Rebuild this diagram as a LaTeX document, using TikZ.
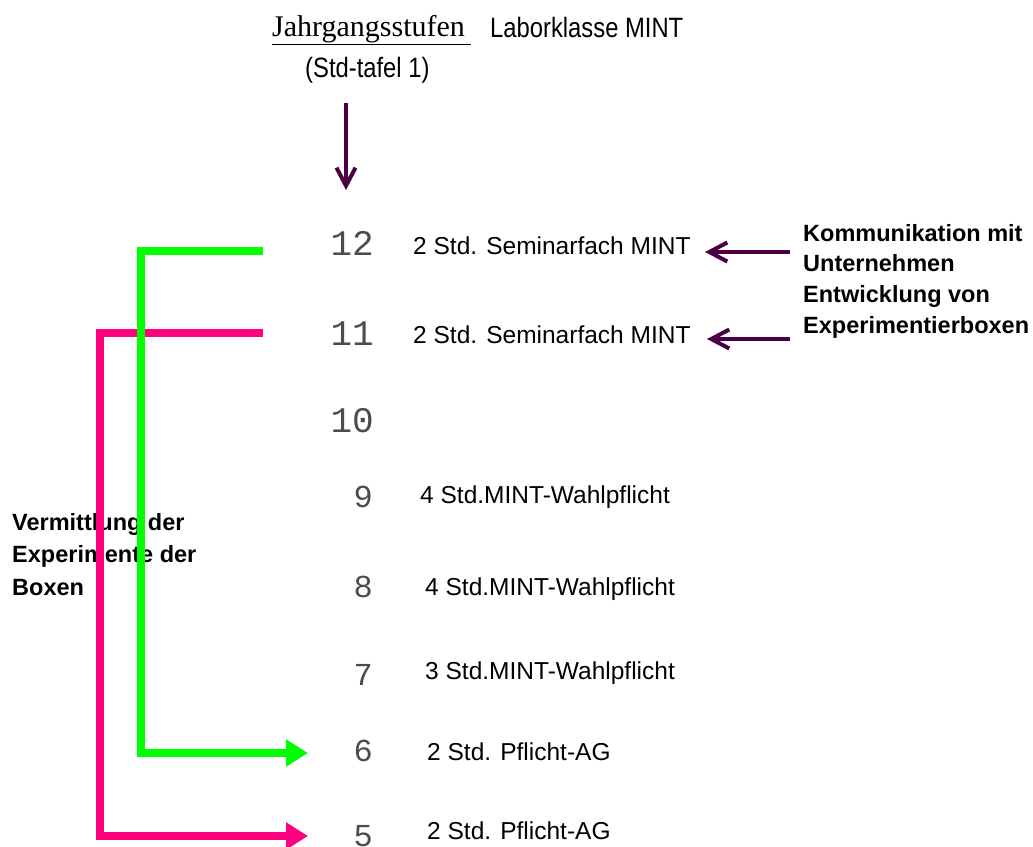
\documentclass[tikz,border=0pt]{standalone}
\usepackage{fontspec}
\setmainfont{Liberation Sans}
\newfontfamily\regfont{Liberation Sans}
\newfontfamily\headfont{Liberation Sans}[FakeStretch=0.85]
\newfontfamily\serfont{Liberation Serif}
\newfontfamily\numfont{Liberation Mono}
\usetikzlibrary{arrows.meta}
\definecolor{plum}{RGB}{75,0,70}
\definecolor{lgreen}{RGB}{0,255,0}
\definecolor{lpink}{RGB}{255,0,128}
\begin{document}
\begin{tikzpicture}[x=1pt,y=-1pt,
  bignum/.style={anchor=base east,inner sep=0pt,text=black!70,font=\numfont\fontsize{36}{36}\selectfont},
  smallnum/.style={anchor=base east,inner sep=0pt,text=black!70,font=\numfont\fontsize{32}{32}\selectfont},
  lbl/.style={anchor=base west,inner sep=0pt,font=\regfont\fontsize{24.5}{28}\selectfont},
  bld/.style={anchor=base west,inner sep=0pt,font=\bfseries\fontsize{23.5}{28}\selectfont},
  hd/.style={anchor=base west,inner sep=0pt,font=\headfont\fontsize{28}{32}\selectfont},
  bar/.style={line width=8pt,line join=miter,-{Triangle[length=22pt,width=26pt]}},
  parr/.style={plum,line width=4pt,-{Straight Barb[length=18pt,width=19pt]}}]
\useasboundingbox (0,0) rectangle (1033,846);

% header
\node[anchor=base west,inner sep=0pt,font=\serfont\fontsize{30}{34}\selectfont] (jahr) at (272,36) {\underline{Jahrgangsstufen\hspace{6pt}}};
\node[hd] (labor) at (490,37) {Laborklasse MINT};
\node[hd] (tafel) at (305,77) {(Std-tafel 1)};

% grade numbers
\node[bignum] (n12) at (374,255) {12};
\node[bignum] (n11) at (374,345) {11};
\node[bignum] (n10) at (374,432) {10};
\node[smallnum] (n9) at (373,507) {9};
\node[smallnum] (n8) at (373,597) {8};
\node[smallnum] (n7) at (373,685) {7};
\node[smallnum] (n6) at (373,761) {6};
\node[smallnum] (n5) at (373,846) {5};

% row labels
\node[lbl] (t12) at (413,254) {2 Std. Seminarfach MINT};
\node[lbl] (t11) at (413,343) {2 Std. Seminarfach MINT};
\node[lbl] (t9) at (420,503) {4 Std.MINT-Wahlpflicht};
\node[lbl] (t8) at (425,595) {4 Std.MINT-Wahlpflicht};
\node[lbl] (t7) at (425,679) {3 Std.MINT-Wahlpflicht};
\node[lbl] (t6) at (427,760) {2 Std. Pflicht-AG};
\node[lbl] (t5) at (427,839) {2 Std. Pflicht-AG};

% right bold text
\node[bld] (k1) at (803,241) {Kommunikation mit};
\node[bld] (k2) at (803,271) {Unternehmen};
\node[bld] (k3) at (803,302) {Entwicklung von};
\node[bld] (k4) at (803,333) {Experimentierboxen};

% left bold text
\node[bld] (v1) at (12,530) {Vermittlung der};
\node[bld] (v2) at (12,562) {Experimente der};
\node[bld] (v3) at (12,595) {Boxen};

% connector end points
\coordinate (d0) at (346,103);
\coordinate (d1) at (346,190);
\coordinate (a12s) at (790,252);
\coordinate (a12e) at (705,252);
\coordinate (a11s) at (790,339);
\coordinate (a11e) at (707,339);
\coordinate (g0) at (263,251);
\coordinate (gc) at (141,753);
\coordinate (g1) at (308,753);
\coordinate (p0) at (263,333);
\coordinate (pc) at (100,836);
\coordinate (p1) at (308,836);

% connectors
\draw[parr] (d0) -- (d1);
\draw[parr] (a12s) -- (a12e);
\draw[parr] (a11s) -- (a11e);
\draw[bar,lpink] (p0) -| (pc) -- (p1);
\draw[bar,lgreen] (g0) -| (gc) -- (g1);
\end{tikzpicture}
\end{document}
